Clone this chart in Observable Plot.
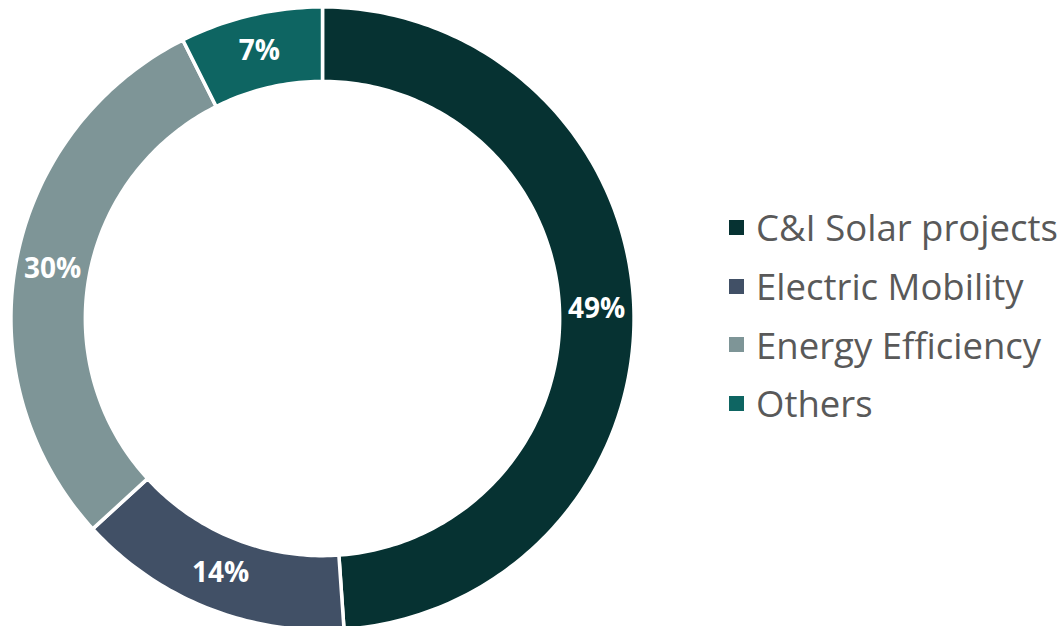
<!DOCTYPE html>
<html><head><meta charset="utf-8">
<script src="https://cdn.jsdelivr.net/npm/d3@7"></script>
<script src="https://cdn.jsdelivr.net/npm/@observablehq/plot@0.6"></script>
<style>
body{margin:0;background:#fff;}
#wrap{position:relative;width:1064px;height:626px;overflow:hidden;}
#legend{position:absolute;left:729px;top:198px;font-family:"Open Sans",sans-serif;color:#595959;}
.row{display:flex;align-items:center;height:58.7px;font-size:36.5px;white-space:nowrap;}
.sw{width:15px;height:15px;margin-right:12px;flex:none;}
</style></head>
<body><div id="wrap"><div id="chart"></div><div id="legend"></div></div>
<script>
const categories = ["C&I Solar projects", "Electric Mobility", "Energy Efficiency", "Others"];
const shares = [48.9, 14.3, 29.4, 7.4];
const labels = ["49%", "14%", "30%", "7%"];
const colors = ["#063232", "#415066", "#7e9597", "#0e6562"];

const data = categories.map((name, i) => ({name, share: shares[i], label: labels[i]}));
const arcs = d3.pie().sort(null).value(d => d.share)(data);

const R = 1.005, r0 = 0.765, rMid = (R + r0) / 2;
const pts = [];
for (const a of arcs) {
  const n = Math.max(8, Math.ceil((a.endAngle - a.startAngle) * 60));
  for (let k = 0; k <= n; k++) {
    const t = a.startAngle + (a.endAngle - a.startAngle) * k / n;
    pts.push({name: a.data.name, x: R * Math.sin(t), y: R * Math.cos(t)});
  }
  for (let k = n; k >= 0; k--) {
    const t = a.startAngle + (a.endAngle - a.startAngle) * k / n;
    pts.push({name: a.data.name, x: r0 * Math.sin(t), y: r0 * Math.cos(t)});
  }
}
const labelData = arcs.map(a => {
  const m = (a.startAngle + a.endAngle) / 2;
  return {text: a.data.label, x: rMid * Math.sin(m), y: rMid * Math.cos(m)};
});

const W = 1064, H = 626, cx = 322, cy = 318, px = 310;
const chart = Plot.plot({
  width: W, height: H, margin: 0,
  x: {domain: [-cx / px, (W - cx) / px], axis: null},
  y: {domain: [-(H - cy) / px, cy / px], axis: null},
  color: {domain: categories, range: colors},
  style: {background: "white"},
  marks: [
    Plot.line(pts, {x: "x", y: "y", z: "name", fill: "name", stroke: "white", strokeWidth: 3.5, curve: "linear-closed"}),
    Plot.text(labelData, {x: "x", y: "y", text: "text", fill: "white", fontSize: 28, fontWeight: "bold", fontFamily: "Open Sans"})
  ]
});
document.getElementById("chart").appendChild(chart);

const leg = document.getElementById("legend");
categories.forEach((c, i) => {
  const row = document.createElement("div");
  row.className = "row";
  const sw = document.createElement("span");
  sw.className = "sw";
  sw.style.background = colors[i];
  const tx = document.createElement("span");
  tx.textContent = c;
  row.appendChild(sw); row.appendChild(tx);
  leg.appendChild(row);
});
</script></body></html>
